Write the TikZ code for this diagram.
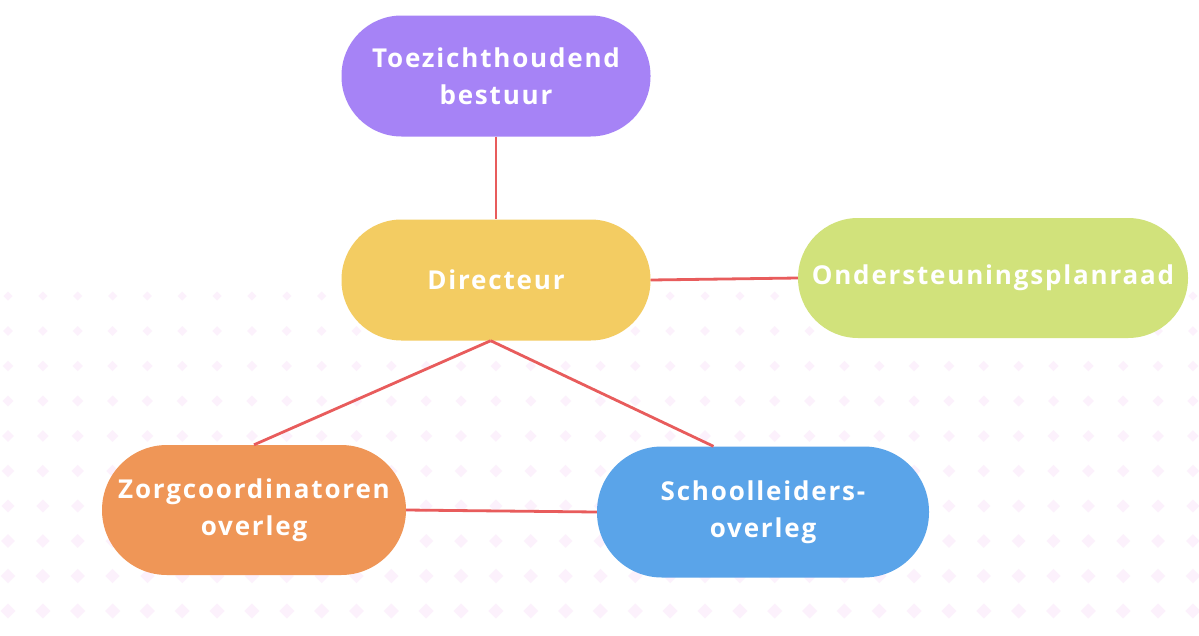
\documentclass[tikz,border=0pt]{standalone}
\usepackage{fontspec}
\newfontfamily\boxfont[LetterSpace=7]{Open Sans}
\definecolor{toezpurple}{HTML}{A683F6}
\definecolor{diryellow}{HTML}{F3CC62}
\definecolor{ondgreen}{HTML}{D1E27B}
\definecolor{zorgorange}{HTML}{EF9657}
\definecolor{schoolblue}{HTML}{5AA4E9}
\definecolor{linkred}{HTML}{E85C5C}
\definecolor{dotpink}{HTML}{FCF1FC}
\begin{document}
\begin{tikzpicture}[x=1pt,y=-1pt,
	pill/.style={rectangle,text=white,align=center,inner sep=0pt,
		font=\boxfont\bfseries\fontsize{26}{37}\selectfont},
	link/.style={draw=linkred,line width=2.8pt}]
\useasboundingbox[fill=white] (0,0) rectangle (1199,635);
% background diamonds
\foreach \j in {0,...,9}{
	\pgfmathsetmacro{\dotsize}{4.5+\j*0.33}
	\foreach \i in {0,...,34}
		\fill[dotpink] ({8+34.85*\i},{296+35*\j}) +(0,-\dotsize) -- +(\dotsize,0) -- +(0,\dotsize) -- +(-\dotsize,0) -- cycle;
}
\node[pill,fill=toezpurple,minimum width=309pt,minimum height=121pt,rounded corners=60pt] (toez) at (496,76) {Toezichthoudend\\bestuur};
\node[pill,fill=diryellow,minimum width=309pt,minimum height=121pt,rounded corners=60pt] (dir) at (496,280) {Directeur};
\node[pill,fill=ondgreen,minimum width=390pt,minimum height=120pt,rounded corners=60pt] (ond) at (993,278) {Ondersteuningsplanraad};
\node[pill,fill=zorgorange,minimum width=304pt,minimum height=130pt,rounded corners=65pt] (zorg) at (254,510) {Zorgcoordinatoren\\overleg};
\node[pill,fill=schoolblue,minimum width=332pt,minimum height=131pt,rounded corners=65pt] (school) at (763,512) {Schoolleiders-\\overleg};
% connectors
\draw[link] (toez.south) -- (dir.north);
\draw[link] (dir.east) -- (ond.west);
\draw[link] (dir.265) -- (zorg.north);
\draw[link] (dir.265) -- (school.127);
\draw[link] (zorg.east) -- (school.west);
\end{tikzpicture}
\end{document}
